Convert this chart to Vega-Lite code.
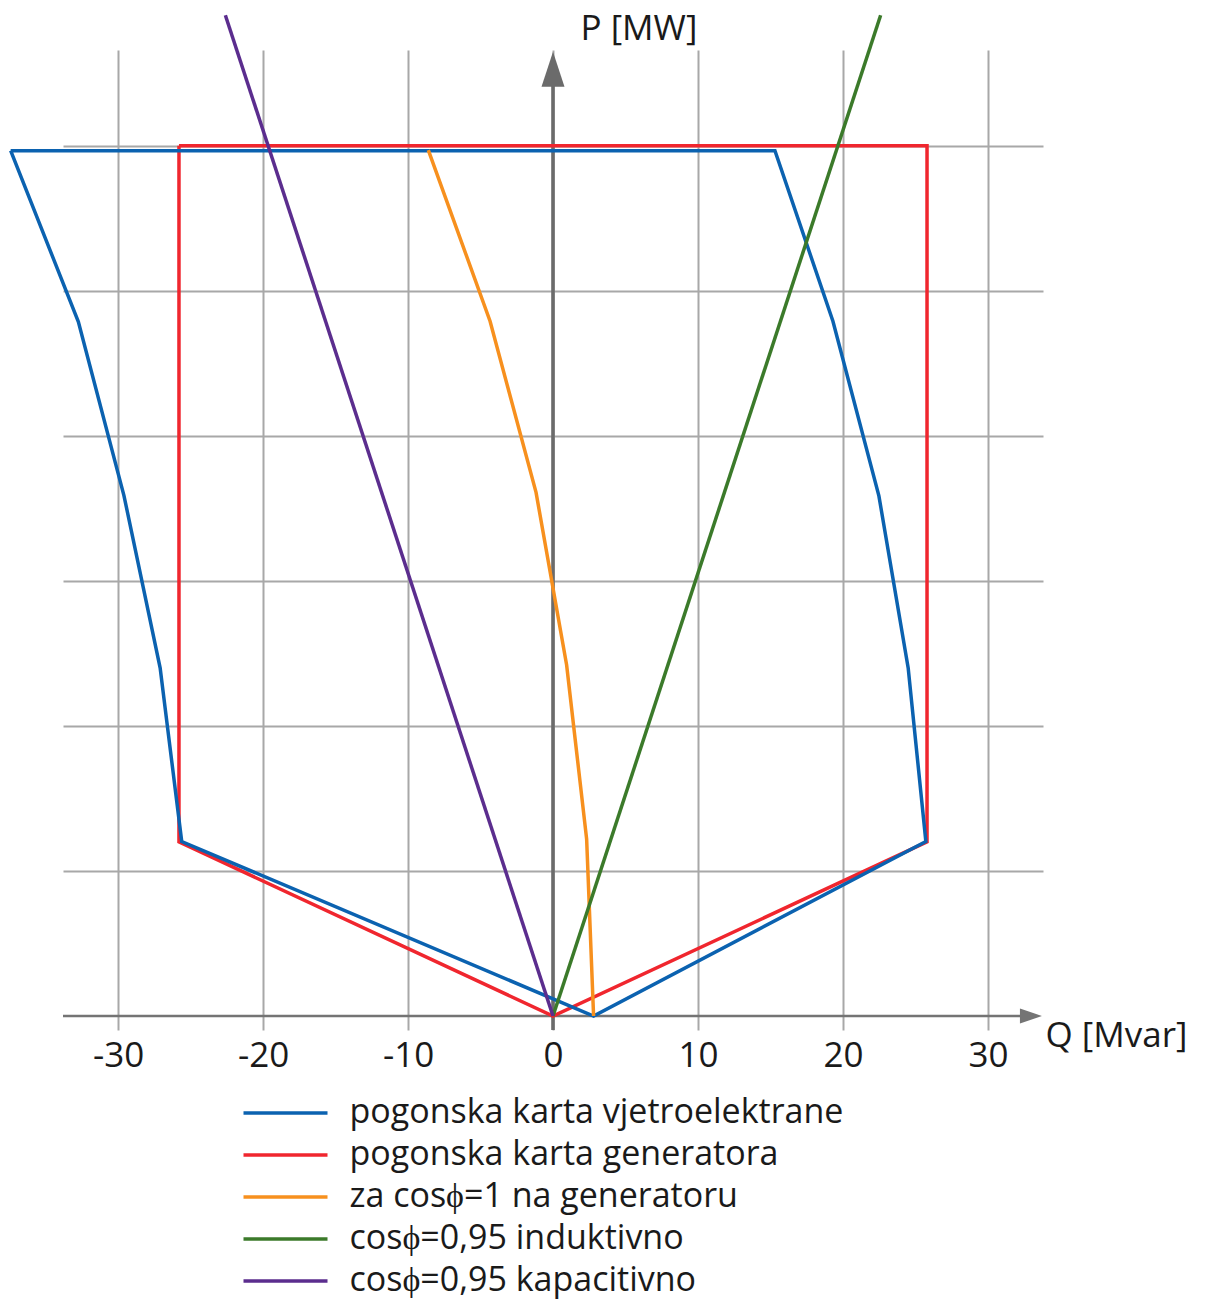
{
  "$schema": "https://vega.github.io/schema/vega-lite/v6.json",
  "width": 980,
  "height": 966,
  "autosize": {"type": "none"},
  "padding": {"left": 63, "top": 50, "right": 163, "bottom": 283},
  "background": "white",
  "config": {"view": {"stroke": null}, "font": "Open Sans"},
  "datasets": {
    "curves": [
      {"series": "pogonska karta generatora", "i": 0, "q": -25.8, "p": 60},
      {"series": "pogonska karta generatora", "i": 1, "q": 25.8, "p": 60},
      {"series": "pogonska karta generatora", "i": 2, "q": 25.8, "p": 12},
      {"series": "pogonska karta generatora", "i": 3, "q": 0, "p": 0},
      {"series": "pogonska karta generatora", "i": 4, "q": -25.8, "p": 12},
      {"series": "pogonska karta generatora", "i": 5, "q": -25.8, "p": 60},
      {"series": "pogonska karta vjetroelektrane", "i": 0, "q": -37.41, "p": 59.66},
      {"series": "pogonska karta vjetroelektrane", "i": 1, "q": 15.31, "p": 59.66},
      {"series": "pogonska karta vjetroelektrane", "i": 2, "q": 19.31, "p": 47.9},
      {"series": "pogonska karta vjetroelektrane", "i": 3, "q": 22.48, "p": 35.86},
      {"series": "pogonska karta vjetroelektrane", "i": 4, "q": 24.5, "p": 24.0},
      {"series": "pogonska karta vjetroelektrane", "i": 5, "q": 25.72, "p": 12.03},
      {"series": "pogonska karta vjetroelektrane", "i": 6, "q": 2.8, "p": 0},
      {"series": "pogonska karta vjetroelektrane", "i": 7, "q": -25.61, "p": 12.03},
      {"series": "pogonska karta vjetroelektrane", "i": 8, "q": -27.1, "p": 24.0},
      {"series": "pogonska karta vjetroelektrane", "i": 9, "q": -29.6, "p": 35.9},
      {"series": "pogonska karta vjetroelektrane", "i": 10, "q": -32.74, "p": 47.86},
      {"series": "pogonska karta vjetroelektrane", "i": 11, "q": -37.41, "p": 59.66},
      {"series": "za cosϕ=1 na generatoru", "i": 0, "q": -8.6, "p": 59.7},
      {"series": "za cosϕ=1 na generatoru", "i": 1, "q": -4.34, "p": 47.9},
      {"series": "za cosϕ=1 na generatoru", "i": 2, "q": -1.17, "p": 36.1},
      {"series": "za cosϕ=1 na generatoru", "i": 3, "q": 0.94, "p": 24.2},
      {"series": "za cosϕ=1 na generatoru", "i": 4, "q": 2.32, "p": 12.2},
      {"series": "za cosϕ=1 na generatoru", "i": 5, "q": 2.8, "p": 0},
      {"series": "cosϕ=0,95 induktivno", "i": 0, "q": 0, "p": 0},
      {"series": "cosϕ=0,95 induktivno", "i": 1, "q": 22.6, "p": 69},
      {"series": "cosϕ=0,95 kapacitivno", "i": 0, "q": 0, "p": 0},
      {"series": "cosϕ=0,95 kapacitivno", "i": 1, "q": -22.6, "p": 69}
    ]
  },
  "layer": [
    {
      "data": {"values": [{}]},
      "mark": {"type": "rule", "color": "#747474", "strokeWidth": 2.6},
      "encoding": {
        "x": {"datum": -33.8, "scale": {"domain": [-33.8, 33.8], "nice": false, "zero": false}},
        "x2": {"datum": 32.3},
        "y": {"datum": 0, "scale": {"domain": [0, 66.6], "nice": false, "zero": false}}
      }
    },
    {
      "data": {"values": [{}]},
      "mark": {"type": "rule", "color": "#6b6b6b", "strokeWidth": 3.6},
      "encoding": {
        "x": {"datum": 0, "scale": {"domain": [-33.8, 33.8], "nice": false, "zero": false}},
        "y": {"datum": -0.97, "scale": {"domain": [0, 66.6], "nice": false, "zero": false}},
        "y2": {"datum": 64.3}
      }
    },
    {
      "data": {"values": [{}]},
      "mark": {"type": "point", "shape": "M0,-1L-0.657,1L0.657,1Z", "size": 1225, "filled": true, "opacity": 1, "color": "#6b6b6b", "strokeWidth": 0},
      "encoding": {
        "x": {"datum": 0, "scale": {"domain": [-33.8, 33.8], "nice": false, "zero": false}},
        "y": {"datum": 65.28, "scale": {"domain": [0, 66.6], "nice": false, "zero": false}}
      }
    },
    {
      "data": {"values": [{}]},
      "mark": {"type": "point", "shape": "M1,0L-1,-0.68L-1,0.68Z", "size": 484, "filled": true, "opacity": 1, "color": "#747474", "strokeWidth": 0},
      "encoding": {
        "x": {"datum": 32.97, "scale": {"domain": [-33.8, 33.8], "nice": false, "zero": false}},
        "y": {"datum": 0, "scale": {"domain": [0, 66.6], "nice": false, "zero": false}}
      }
    },
    {
      "data": {"name": "curves"},
      "mark": {"type": "line", "strokeWidth": 3.5, "clip": false},
      "encoding": {
        "x": {
          "field": "q", "type": "quantitative",
          "scale": {"domain": [-33.8, 33.8], "nice": false, "zero": false},
          "axis": {
            "values": [-30, -20, -10, 0, 10, 20, 30],
            "labelExpr": "replace(datum.label, '−', '-')",
            "grid": true, "gridColor": "#a8a8a8", "gridWidth": 2,
            "domain": false,
            "ticks": true, "tickSize": 14, "tickColor": "#a8a8a8", "tickWidth": 2,
            "labelFontSize": 35, "labelFont": "Open Sans", "labelColor": "#1a1a1a",
            "labelPadding": 8, "labelFlush": false, "labelOverlap": false,
            "title": "Q [Mvar]", "titleFontSize": 35, "titleFontWeight": "normal",
            "titleFont": "Open Sans", "titleColor": "#1a1a1a",
            "titleX": 982, "titleY": 19, "titleAlign": "left", "titleBaseline": "middle"
          }
        },
        "y": {
          "field": "p", "type": "quantitative",
          "scale": {"domain": [0, 66.6], "nice": false, "zero": false},
          "axis": {
            "values": [10, 20, 30, 40, 50, 60],
            "grid": true, "gridColor": "#a8a8a8", "gridWidth": 2,
            "domain": false, "ticks": false, "labels": false,
            "title": "P [MW]", "titleFontSize": 35, "titleFontWeight": "normal",
            "titleFont": "Open Sans", "titleColor": "#1a1a1a", "titleAngle": 0,
            "titleX": 517, "titleY": -22, "titleAlign": "left", "titleBaseline": "middle"
          }
        },
        "color": {
          "field": "series", "type": "nominal",
          "scale": {
            "domain": ["pogonska karta vjetroelektrane", "pogonska karta generatora", "za cosϕ=1 na generatoru", "cosϕ=0,95 induktivno", "cosϕ=0,95 kapacitivno"],
            "range": ["#0b62b0", "#f0262e", "#f7901e", "#3b7a2a", "#5b2d8e"]
          },
          "legend": {
            "orient": "none", "legendX": 205.5, "legendY": 1046,
            "title": null, "direction": "vertical",
            "symbolType": "M-8.4,0H8.4", "symbolSize": 100, "symbolStrokeWidth": 3.5,
            "labelFontSize": 34, "labelFont": "Open Sans", "labelColor": "#1a1a1a",
            "labelOffset": 47, "rowPadding": 8, "padding": 0, "labelLimit": 0
          }
        },
        "order": {"field": "i", "type": "quantitative"}
      }
    }
  ]
}
